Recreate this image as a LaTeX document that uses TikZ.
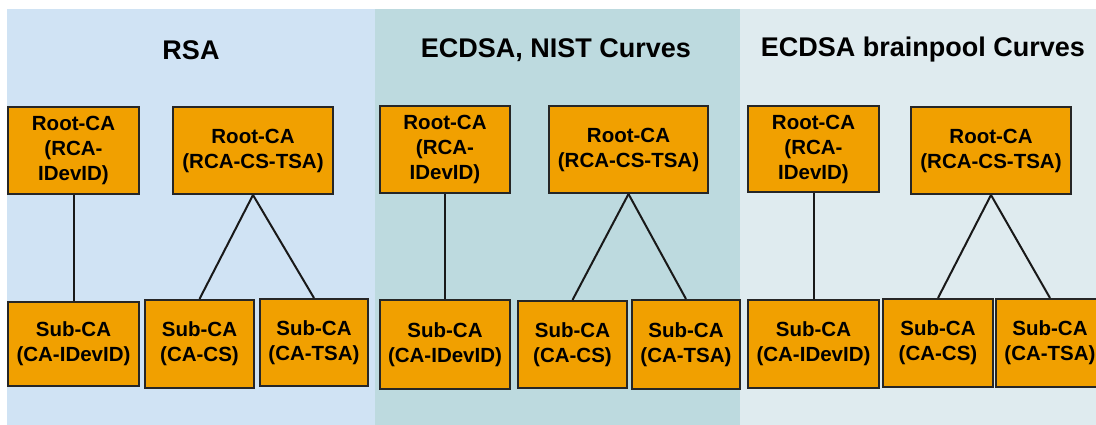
\documentclass[tikz,border=0pt]{standalone}
\usepackage{fontspec}
\setmainfont{Liberation Sans}
\definecolor{pA}{HTML}{D0E3F4}
\definecolor{pB}{HTML}{BDDADF}
\definecolor{pC}{HTML}{DFEBEF}
\definecolor{boxorange}{HTML}{F1A000}
\tikzset{
  cabox/.style={draw=black!85, fill=boxorange, line width=2pt, align=center, inner sep=0pt,
    font=\bfseries\fontsize{20.5}{25}\selectfont},
  paneltitle/.style={font=\bfseries\fontsize{27}{32}\selectfont, inner sep=0pt},
  link/.style={draw=black!90, line width=2pt}
}
\begin{document}
\begin{tikzpicture}[x=1pt,y=-1pt]
\useasboundingbox (0,0) rectangle (1096,425);
\fill[white] (0,0) rectangle (1096,425);
% panels
\fill[pA] (7,9) rectangle (375,425);
\fill[pB] (375,9) rectangle (740,425);
\fill[pC] (740,9) rectangle (1096,425);
\node[paneltitle] (t1) at (191,50) {RSA};
\node[paneltitle] (t2) at (556,50) {ECDSA, NIST Curves};
\node[paneltitle] (t3) at (923,50) {ECDSA brainpool Curves};
% Panel 1
\node[cabox, minimum width=131pt, minimum height=87pt] (a1) at (73.5,150.5) {Root-CA\\(RCA-\\IDevID)};
\node[cabox, minimum width=160pt, minimum height=87pt] (a2) at (253,150.5) {Root-CA\\(RCA-CS-TSA)};
\node[cabox, minimum width=131pt, minimum height=84pt] (a3) at (73.5,344) {Sub-CA\\(CA-IDevID)};
\node[cabox, minimum width=109pt, minimum height=88pt] (a4) at (199.5,344) {Sub-CA\\(CA-CS)};
\node[cabox, minimum width=108pt, minimum height=87pt] (a5) at (314,342.5) {Sub-CA\\(CA-TSA)};
\draw[link] (a1.south) -- (a3.north);
\draw[link] (a2.south) -- (a4.north);
\draw[link] (a2.south) -- (a5.north);
% Panel 2
\node[cabox, minimum width=130pt, minimum height=87pt] (b1) at (445,149.5) {Root-CA\\(RCA-\\IDevID)};
\node[cabox, minimum width=159pt, minimum height=87pt] (b2) at (628.5,149.5) {Root-CA\\(RCA-CS-TSA)};
\node[cabox, minimum width=130pt, minimum height=89pt] (b3) at (445,344.5) {Sub-CA\\(CA-IDevID)};
\node[cabox, minimum width=109pt, minimum height=87pt] (b4) at (572.5,344.5) {Sub-CA\\(CA-CS)};
\node[cabox, minimum width=108pt, minimum height=89pt] (b5) at (686,344.5) {Sub-CA\\(CA-TSA)};
\draw[link] (b1.south) -- (b3.north);
\draw[link] (b2.south) -- (b4.north);
\draw[link] (b2.south) -- (b5.north);
% Panel 3
\node[cabox, minimum width=131pt, minimum height=86pt] (c1) at (813.5,149) {Root-CA\\(RCA-\\IDevID)};
\node[cabox, minimum width=160pt, minimum height=87pt] (c2) at (991,150.5) {Root-CA\\(RCA-CS-TSA)};
\node[cabox, minimum width=131pt, minimum height=88pt] (c3) at (813.5,344) {Sub-CA\\(CA-IDevID)};
\node[cabox, minimum width=110pt, minimum height=88pt] (c4) at (938,343) {Sub-CA\\(CA-CS)};
\node[cabox, minimum width=108pt, minimum height=88pt] (c5) at (1050,343) {Sub-CA\\(CA-TSA)};
\draw[link] (c1.south) -- (c3.north);
\draw[link] (c2.south) -- (c4.north);
\draw[link] (c2.south) -- (c5.north);
\end{tikzpicture}
\end{document}
